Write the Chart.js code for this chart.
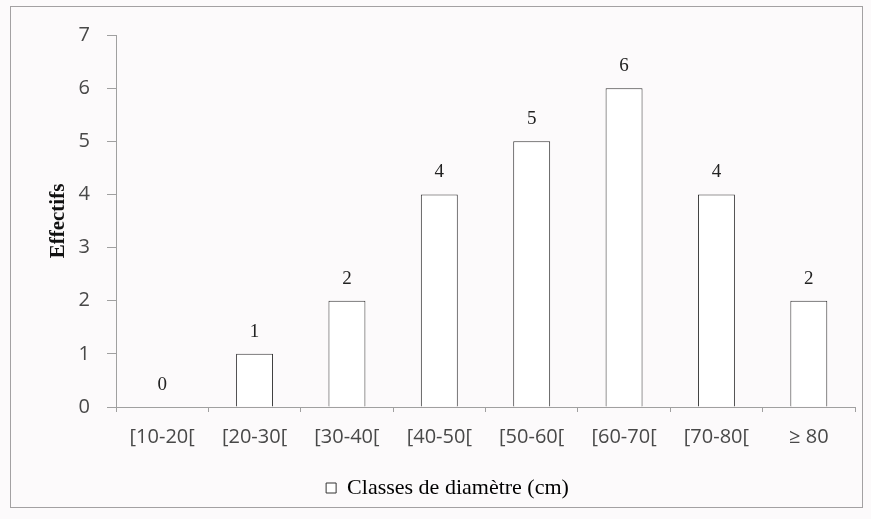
<!DOCTYPE html>
<html>
<head>
<meta charset="utf-8">
<script src="https://cdn.jsdelivr.net/npm/chart.js@4.4.1/dist/chart.umd.min.js"></script>
<style>
  html, body { margin: 0; padding: 0; background: #fcfafb; }
  #wrap { position: relative; width: 871px; height: 519px; }
  #frame { position: absolute; left: 10px; top: 6px; width: 853px; height: 502px; border: 1px solid #a3a1a2; box-sizing: border-box; pointer-events: none; }
  canvas { position: absolute; left: 0; top: 0; }
</style>
</head>
<body>
<div id="wrap">
  <canvas id="c" width="871" height="519"></canvas>
  <div id="frame"></div>
</div>
<script>
const categories = ['[10-20[', '[20-30[', '[30-40[', '[40-50[', '[50-60[', '[60-70[', '[70-80[', '≥ 80'];
const effectifs = [0, 1, 2, 4, 5, 6, 4, 2];
const seriesLabel = 'Classes de diamètre (cm)';
const yTitle = 'Effectifs';
const yMin = 0, yMax = 7, yStep = 1;

const valueLabels = {
  id: 'valueLabels',
  afterDatasetsDraw(chart) {
    const ctx = chart.ctx;
    const meta = chart.getDatasetMeta(0);
    ctx.save();
    ctx.font = '19px "Liberation Serif", "Times New Roman", serif';
    ctx.fillStyle = '#222';
    ctx.textAlign = 'center';
    ctx.textBaseline = 'middle';
    meta.data.forEach((bar, i) => {
      ctx.fillText(String(chart.data.datasets[0].data[i]), bar.x, bar.y - 22);
    });
    ctx.restore();
  }
};

new Chart(document.getElementById('c'), {
  type: 'bar',
  data: {
    labels: categories,
    datasets: [{
      label: seriesLabel,
      data: effectifs,
      backgroundColor: '#ffffff',
      borderColor: '#333333',
      borderWidth: 1,
      categoryPercentage: 0.5,
      barPercentage: 0.8
    }]
  },
  options: {
    responsive: false,
    animation: false,
    layout: { padding: { left: 40, right: 16, top: 35, bottom: 10 } },
    plugins: {
      tooltip: { enabled: false },
      legend: {
        position: 'bottom',
        labels: {
          boxWidth: 10,
          boxHeight: 10,
          padding: 8,
          color: '#222',
          font: { family: '"Liberation Serif", "Times New Roman", serif', size: 22 },
          generateLabels(chart) {
            return [{
              text: chart.data.datasets[0].label,
              fillStyle: '#ffffff',
              strokeStyle: '#333',
              lineWidth: 1,
              datasetIndex: 0,
              hidden: false
            }];
          }
        }
      }
    },
    scales: {
      x: {
        afterFit(scale) { scale.height = 62; },
        grid: { offset: true, drawOnChartArea: false, drawTicks: true, tickLength: 5, color: '#a0a0a0' },
        border: { display: true, color: '#a0a0a0' },
        ticks: {
          color: '#484848',
          padding: 13,
          maxRotation: 0,
          font: { family: '"Open Sans", "Liberation Sans", sans-serif', size: 20 }
        }
      },
      y: {
        min: yMin,
        max: yMax,
        afterFit(scale) { scale.width = 76; },
        grid: { drawOnChartArea: false, drawTicks: true, tickLength: 9, color: '#a0a0a0' },
        border: { display: true, color: '#a0a0a0' },
        ticks: {
          stepSize: yStep,
          color: '#484848',
          padding: 17,
          font: { family: '"Open Sans", "Liberation Sans", sans-serif', size: 20 }
        },
        title: {
          display: true,
          text: yTitle,
          color: '#111',
          padding: { top: 6, bottom: 0 },
          font: { family: '"Liberation Serif", "Times New Roman", serif', size: 21, weight: 'bold' }
        }
      }
    }
  },
  plugins: [valueLabels]
});
</script>
</body>
</html>
